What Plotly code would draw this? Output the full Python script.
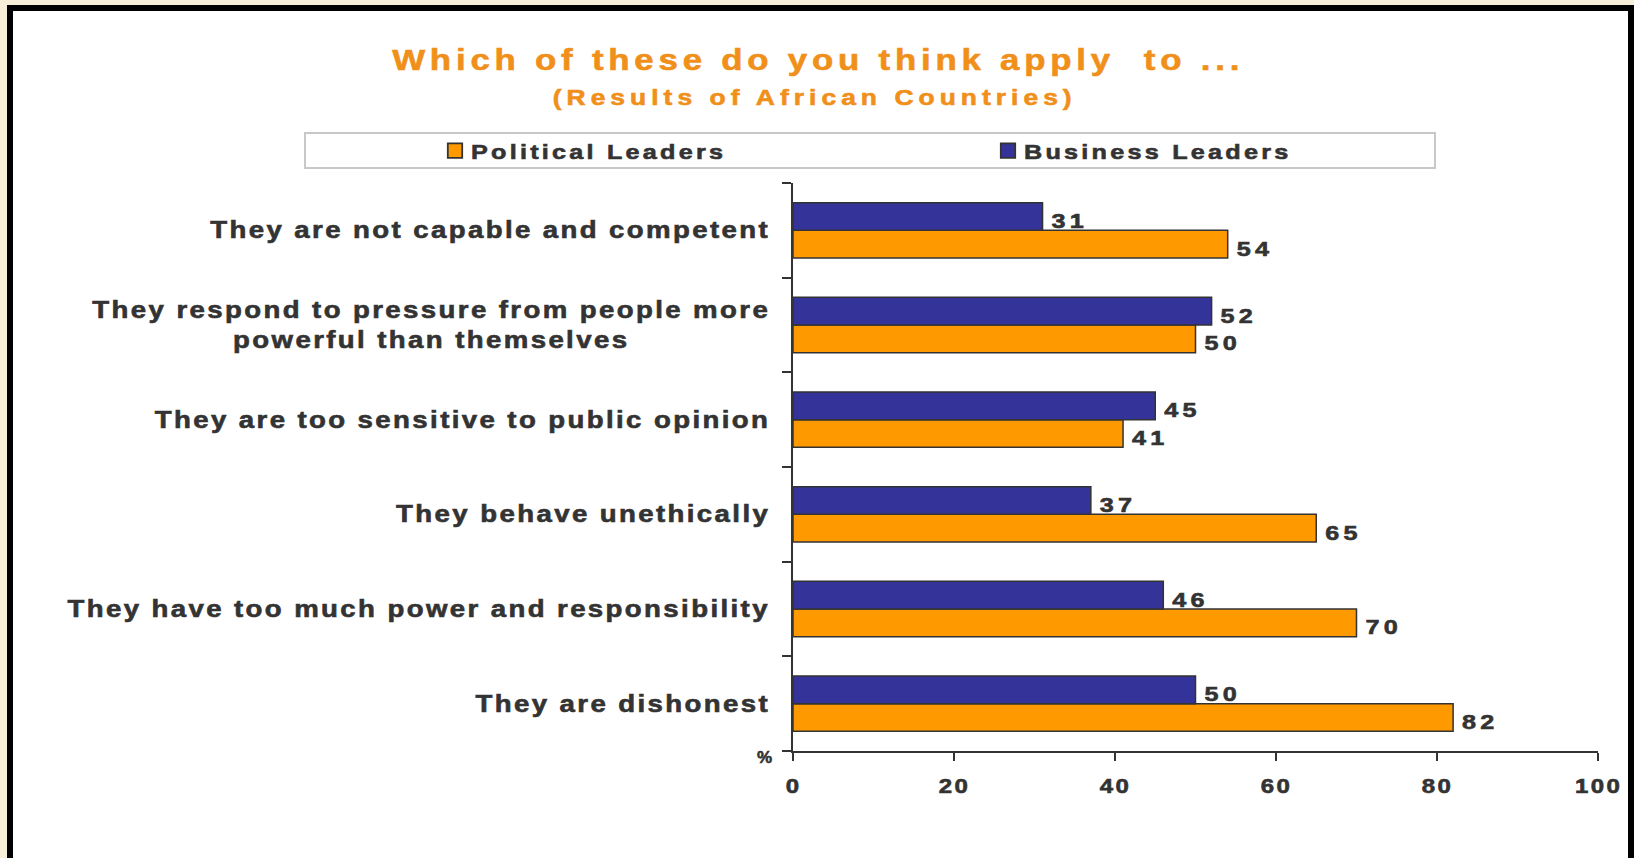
import plotly.graph_objects as go

categories = [
    "They are not capable and competent",
    "They respond to pressure from people more<br>powerful than themselves",
    "They are too sensitive to public opinion",
    "They behave unethically",
    "They have too much power and responsibility",
    "They are dishonest",
]
political = [54, 50, 41, 65, 70, 82]
business = [31, 52, 45, 37, 46, 50]
x_ticks = [0, 20, 40, 60, 80, 100]

W, H = 1634, 858
ML, MR, MT, MB = 793, 36, 183, 107
PW, PH = W - ML - MR, H - MT - MB


def px(x):
    return (x - ML) / PW


def py(y):
    return (H - MB - y) / PH


FONT = "Liberation Sans, Arial, sans-serif"
TXT = "#333333"
ORANGE = "#FF9900"
BLUE = "#333399"
TITLE_C = "#F0901A"

fig = go.Figure()
fig.add_trace(go.Bar(
    name="Political Leaders", y=categories, x=political, orientation="h",
    marker=dict(color=ORANGE, line=dict(color="#333333", width=1.5)),
    text=political, textposition="outside", cliponaxis=False,
    textfont=dict(family=FONT, size=21, color=TXT, weight="bold"),
))
fig.add_trace(go.Bar(
    name="Business Leaders", y=categories, x=business, orientation="h",
    marker=dict(color=BLUE, line=dict(color="#333333", width=1.5)),
    text=business, textposition="outside", cliponaxis=False,
    textfont=dict(family=FONT, size=21, color=TXT, weight="bold"),
))

annotations = []
for c in categories:
    annotations.append(dict(
        x=px(771), xref="paper", y=c, yref="y", xanchor="right", yanchor="middle",
        text=c, showarrow=False, align="center",
        font=dict(family=FONT, size=23, color=TXT, weight="bold"),
    ))
annotations.append(dict(
    x=px(813), xref="paper", y=py(97), yref="paper", xanchor="center", yanchor="middle",
    text="(Results of African Countries)", showarrow=False,
    font=dict(family=FONT, size=22, color=TITLE_C, weight="bold"),
))
annotations.append(dict(
    x=px(764), xref="paper", y=py(757), yref="paper", xanchor="center", yanchor="middle",
    text="%", showarrow=False,
    font=dict(family=FONT, size=17, color=TXT, weight="bold"),
))

shapes = [
    dict(type="rect", xref="paper", yref="paper", layer="below",
         x0=px(10), x1=px(1631), y0=py(8), y1=py(900),
         fillcolor="white", line=dict(color="black", width=6)),
    dict(type="rect", xref="paper", yref="paper", layer="below",
         x0=px(305), x1=px(1435), y0=py(133), y1=py(168),
         fillcolor="white", line=dict(color="#c8c8c8", width=2)),
]

fig.update_layout(
    width=W, height=H,
    margin=dict(l=ML, r=MR, t=MT, b=MB),
    paper_bgcolor="#F7EFD8",
    plot_bgcolor="rgba(0,0,0,0)",
    barmode="group", bargap=0.415, bargroupgap=0,
    title=dict(text="Which of these do you think apply\u00a0 to ...", x=817 / W, xref="container",
               xanchor="center", y=1 - 60 / H, yref="container", yanchor="middle",
               font=dict(family=FONT, size=29, color=TITLE_C, weight="bold")),
    legend=dict(orientation="h", x=px(431), xanchor="left", y=py(151), yanchor="middle",
                entrywidth=508, entrywidthmode="pixels", itemwidth=30,
                bgcolor="rgba(0,0,0,0)", borderwidth=0,
                font=dict(family=FONT, size=21, color=TXT, weight="bold")),
    xaxis=dict(range=[0, 100], tickvals=x_ticks, ticktext=[str(v) for v in x_ticks],
               showgrid=False, zeroline=False, showline=True, linecolor="#333333", linewidth=2,
               ticks="outside", ticklen=8, tickwidth=2, tickcolor="#333333",
               ticklabelstandoff=8,
               tickfont=dict(family=FONT, size=20, color=TXT, weight="bold"), fixedrange=True),
    yaxis=dict(type="category", categoryorder="array", categoryarray=categories[::-1],
               showticklabels=False, showgrid=False, zeroline=False, showline=True,
               linecolor="#333333", linewidth=2, ticks="outside", ticklen=9, tickwidth=2,
               tickcolor="#333333", tickson="boundaries", fixedrange=True),
    annotations=annotations,
    shapes=shapes,
    showlegend=True,
)

# wide, letter-spaced lettering as in the original slide; anchors kept by measuring each text
post_js = r"""
document.body.style.margin = '0';
var gd = document.querySelector('.js-plotly-plot');
var NS = 'http://www.w3.org/2000/svg';
function sp(t, s, k, mode, ox, oy) {
  if (!t) return;
  var g = document.createElementNS(NS, 'g');
  t.parentNode.insertBefore(g, t);
  g.appendChild(t);
  var b0 = g.getBBox();
  t.style.letterSpacing = s + 'px';
  var c = window.getComputedStyle(t).fill;
  t.style.stroke = c;
  t.style.strokeWidth = '0.6px';
  var b1 = g.getBBox();
  var L = b1.x, R = b1.x + b1.width - 0.5 * s;
  var dx;
  if (mode === 'left') dx = b0.x - k * L;
  else if (mode === 'right') dx = b0.x + b0.width - k * R;
  else dx = (b0.x + b0.width / 2) - k * (L + R) / 2;
  dx += (ox || 0);
  g.setAttribute('transform', 'translate(' + dx + ',' + (oy || 0) + ') scale(' + k + ',1)');
}
var K = 1.2;
gd.querySelectorAll('text.gtitle').forEach(function (t) { sp(t, 4.0, K, 'center'); });
gd.querySelectorAll('g.annotation').forEach(function (a) {
  var i = parseInt(a.getAttribute('data-index'));
  var t = a.querySelector('text.annotation-text');
  if (i < 6) sp(t, 2.0, K, 'right');
  else if (i === 6) sp(t, 4.2, K, 'center');
  else sp(t, 0, 1.0, 'center');
});
gd.querySelectorAll('text.legendtext').forEach(function (t) { sp(t, 2.7, K, 'left'); });
gd.querySelectorAll('.xtick text').forEach(function (t) { sp(t, 2.0, K, 'center'); });
gd.querySelectorAll('text.bartext').forEach(function (t) { sp(t, 3.5, K, 'left', 6, 4); });
gd.querySelectorAll('.legendpoints path').forEach(function (p) {
  var g = document.createElementNS(NS, 'g');
  p.parentNode.insertBefore(g, p);
  g.appendChild(p);
  g.setAttribute('transform', 'scale(1.2)');
});
"""

fig.write_html("out.html", post_script=post_js, config={"displayModeBar": False})
